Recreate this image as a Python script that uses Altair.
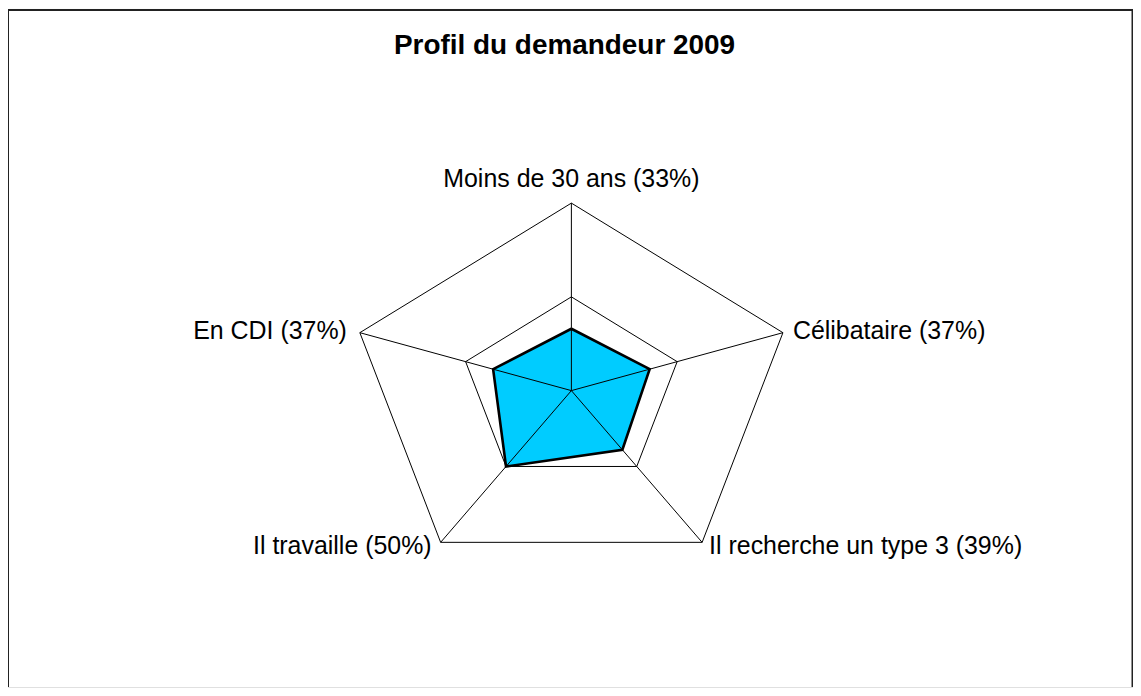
import altair as alt
import numpy as np
import pandas as pd

# ---- data ----
categories = ["Moins de 30 ans", "Célibataire", "Il recherche un type 3", "Il travaille", "En CDI"]
values = [33, 37, 39, 50, 37]
grid_levels = [50, 100]
scale_max = 100
title_text = "Profil du demandeur 2009"

n = len(categories)
angles = [2 * np.pi * i / n for i in range(n)]

poly = pd.DataFrame({
    "order": list(range(n + 1)),
    "cat": [categories[k % n] for k in range(n + 1)],
    "value": [values[k % n] for k in range(n + 1)],
    "angle": [angles[k % n] for k in range(n + 1)],
})

grid = pd.DataFrame({
    "level": [lv for lv in grid_levels for k in range(n + 1)],
    "order": [k for lv in grid_levels for k in range(n + 1)],
    "angle": [angles[k % n] for lv in grid_levels for k in range(n + 1)],
})

spokes = pd.DataFrame({"cat": categories, "angle": angles})

labels = pd.DataFrame({
    "cat": categories,
    "angle": angles,
    "label": [f"{c} ({v}%)" for c, v in zip(categories, values)],
})

W, H = 1128, 680
xs = alt.Scale(domain=[-2.533, 2.525], nice=False, zero=False)
ys = alt.Scale(domain=[-1.581, 2.0356], nice=False, zero=False)

def X(f):
    return alt.X(f, type="quantitative", scale=xs, axis=None)

def Y(f):
    return alt.Y(f, type="quantitative", scale=ys, axis=None)

FONT = "Liberation Sans"

fill_layer = alt.Chart(poly).transform_calculate(
    px=f"datum.value/{scale_max}*sin(datum.angle)",
    py=f"datum.value/{scale_max}*cos(datum.angle)",
).mark_line(fill="#00CCFF", stroke="#00CCFF", strokeWidth=0).encode(
    x=X("px"), y=Y("py"), order=alt.Order("order:Q")
)

grid_layer = alt.Chart(grid).transform_calculate(
    px=f"datum.level/{scale_max}*sin(datum.angle)",
    py=f"datum.level/{scale_max}*cos(datum.angle)",
).mark_line(color="black", strokeWidth=1).encode(
    x=X("px"), y=Y("py"), order=alt.Order("order:Q"), detail="level:N"
)

spoke_layer = alt.Chart(spokes).transform_calculate(
    x0="0", y0="0", x1="sin(datum.angle)", y1="cos(datum.angle)"
).mark_rule(color="black", strokeWidth=1).encode(
    x=X("x0"), y=Y("y0"), x2="x1:Q", y2="y1:Q"
)

outline_layer = alt.Chart(poly).transform_calculate(
    px=f"datum.value/{scale_max}*sin(datum.angle)",
    py=f"datum.value/{scale_max}*cos(datum.angle)",
).mark_line(color="black", strokeWidth=2.6, strokeJoin="miter").encode(
    x=X("px"), y=Y("py"), order=alt.Order("order:Q")
)

label_specs = {
    "Moins de 30 ans": dict(align="center", dx=0, dy=-24),
    "Célibataire": dict(align="left", dx=10, dy=-2),
    "Il recherche un type 3": dict(align="left", dx=7, dy=4),
    "Il travaille": dict(align="right", dx=-9, dy=4),
    "En CDI": dict(align="right", dx=-13, dy=-2),
}

text_layers = []
for cat, spec in label_specs.items():
    text_layers.append(
        alt.Chart(labels).transform_filter(alt.datum.cat == cat).transform_calculate(
            px="sin(datum.angle)", py="cos(datum.angle)"
        ).mark_text(font=FONT, fontSize=25, color="black", baseline="middle", **spec).encode(
            x=X("px"), y=Y("py"), text="label:N"
        )
    )

title_layer = alt.Chart(pd.DataFrame({"t": [title_text]})).mark_text(
    font=FONT, fontSize=28, fontWeight="bold", color="black", baseline="middle", align="center"
).encode(x=alt.value(558), y=alt.value(37), text="t:N")

frame_df = pd.DataFrame({"side": ["left", "top", "right"]})
frame_left = alt.Chart(frame_df).transform_filter(alt.datum.side == "left").mark_rule(
    color="#222222", strokeWidth=2).encode(x=alt.value(0), y=alt.value(0), y2=alt.value(H))
frame_top = alt.Chart(frame_df).transform_filter(alt.datum.side == "top").mark_rule(
    color="#222222", strokeWidth=2).encode(x=alt.value(0), x2=alt.value(W), y=alt.value(1))
frame_right = alt.Chart(frame_df).transform_filter(alt.datum.side == "right").mark_rule(
    color="#222222", strokeWidth=2).encode(x=alt.value(W - 0.5), y=alt.value(0), y2=alt.value(H))

chart = alt.layer(
    fill_layer, grid_layer, spoke_layer, outline_layer, *text_layers, title_layer,
    frame_left, frame_top, frame_right
).properties(
    width=W, height=H, padding=0, autosize=alt.AutoSizeParams(type="none")
).configure_view(stroke=None).configure(background="white")

chart.save("out.html", embed_options={"renderer": "svg", "actions": False})
